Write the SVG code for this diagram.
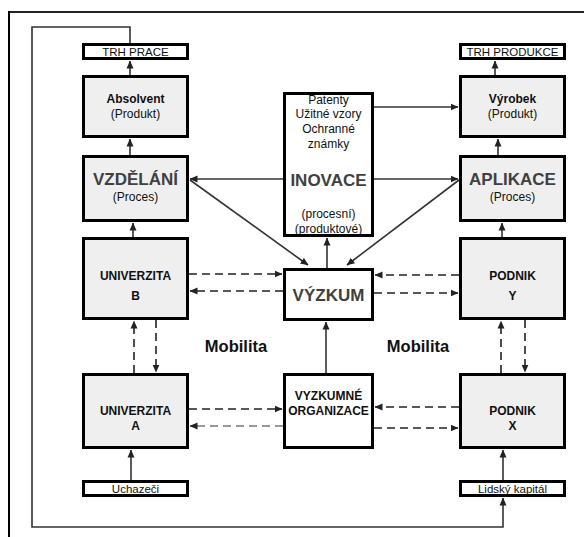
<svg xmlns="http://www.w3.org/2000/svg" width="584" height="537" viewBox="0 0 584 537">
<style>
.box{stroke:#000;stroke-width:3;fill:#fff}
.g{fill:#efefef}
.t{font-family:"Liberation Sans",Arial,sans-serif;font-size:12px;fill:#111;text-anchor:middle}
.s{font-size:11.5px}
.b{font-weight:bold}
.big{font-family:"Liberation Sans",Arial,sans-serif;font-size:17px;font-weight:bold;fill:#404040;text-anchor:middle}
.ln{stroke:#333;stroke-width:1.6;fill:none}
.d{stroke:#222;stroke-width:1.6;fill:none;stroke-dasharray:8,5}
.dl{stroke:#777;stroke-width:1.6;fill:none;stroke-dasharray:8,5}
.a{marker-end:url(#ah)}
</style>
<defs>
<marker id="ah" viewBox="0 0 8 8" refX="7.5" refY="4" markerWidth="8" markerHeight="8" markerUnits="userSpaceOnUse" orient="auto">
<path d="M0,0.5 L8,4 L0,7.5 z" fill="#222"/>
</marker>
</defs>
<rect width="584" height="537" fill="#fff"/>
<g id="frame">
<line x1="9" y1="12" x2="584" y2="12" stroke="#222" stroke-width="2"/>
<line x1="9" y1="11" x2="9" y2="537" stroke="#000" stroke-width="2"/>
</g>
<g id="connectors">
<path class="ln a" d="M130,43 V27 H32 V527 H503 V498"/>
<line class="ln a" x1="130" y1="75" x2="130" y2="61"/>
<line class="ln a" x1="130" y1="155" x2="130" y2="139"/>
<line class="ln a" x1="133" y1="237" x2="133" y2="223"/>
<line class="ln a" x1="131" y1="480" x2="131" y2="450"/>
<line class="ln a" x1="495" y1="75" x2="495" y2="61"/>
<line class="ln a" x1="498" y1="155" x2="498" y2="139"/>
<line class="ln a" x1="502" y1="237" x2="502" y2="223"/>
<line class="ln a" x1="503" y1="480" x2="503" y2="450"/>
<line class="ln a" x1="374" y1="107" x2="458" y2="107"/>
<line class="ln a" x1="283" y1="179" x2="190" y2="179"/>
<line class="ln a" x1="374" y1="179" x2="458" y2="179"/>
<line class="ln a" x1="190" y1="180" x2="308" y2="265"/>
<line class="ln a" x1="459" y1="180" x2="347" y2="265"/>
<line class="ln a" x1="327" y1="268" x2="327" y2="238"/>
<line class="ln a" x1="326" y1="373" x2="326" y2="322"/>
<line class="d a" x1="189" y1="274" x2="282" y2="274"/>
<line class="d a" x1="283" y1="291" x2="190" y2="291"/>
<line class="d a" x1="459" y1="275" x2="375" y2="275"/>
<line class="d a" x1="374" y1="293" x2="458" y2="293"/>
<line class="d a" x1="134" y1="373" x2="134" y2="321"/>
<line class="d a" x1="156" y1="320" x2="156" y2="372"/>
<line class="d a" x1="501" y1="373" x2="501" y2="321"/>
<line class="d a" x1="525" y1="320" x2="525" y2="372"/>
<line class="d a" x1="189" y1="409" x2="282" y2="409"/>
<line class="dl a" x1="283" y1="426" x2="190" y2="426"/>
<line class="d a" x1="459" y1="407" x2="375" y2="407"/>
<line class="d a" x1="374" y1="428" x2="458" y2="428"/>
</g>
<g id="trh-prace"><rect class="box" x="83.5" y="44.5" width="104" height="14"/><text class="t s" x="135.5" y="55.5">TRH PRACE</text></g>
<g id="absolvent"><rect class="box g" x="83.5" y="76.5" width="104" height="60"/><text class="t b" x="135.5" y="103">Absolvent</text><text class="t" x="135.5" y="118">(Produkt)</text></g>
<g id="vzdelani"><rect class="box g" x="83.5" y="156.5" width="104" height="64"/><text class="big" x="135.5" y="185">VZDĚLÁNÍ</text><text class="t" x="135.5" y="201">(Proces)</text></g>
<g id="univerzita-b"><rect class="box g" x="83.5" y="238.5" width="104" height="80"/><text class="t b" x="135.5" y="280">UNIVERZITA</text><text class="t b" x="135.5" y="300">B</text></g>
<g id="univerzita-a"><rect class="box g" x="83.5" y="374.5" width="104" height="73"/><text class="t b" x="135.5" y="415">UNIVERZITA</text><text class="t b" x="135.5" y="430">A</text></g>
<g id="uchazeci"><rect class="box" x="83.5" y="481.5" width="104" height="14"/><text class="t s" x="135.5" y="492.5">Uchazeči</text></g>
<g id="inovace"><rect class="box" x="284.5" y="93.5" width="88" height="142"/><text class="t" x="328.5" y="104">Patenty</text><text class="t" x="328.5" y="118">Užitné vzory</text><text class="t" x="328.5" y="133">Ochranné</text><text class="t" x="328.5" y="148">známky</text><text class="big" x="328.5" y="186">INOVACE</text><text class="t" x="328.5" y="218">(procesní)</text><text class="t" x="328.5" y="233">(produktové)</text></g>
<g id="vyzkum"><rect class="box" x="284.5" y="269.5" width="88" height="50"/><text class="big" x="328.5" y="301">VÝZKUM</text></g>
<g id="vyzkumne-organizace"><rect class="box" x="284.5" y="374.5" width="88" height="73"/><text class="t b" x="328.5" y="400">VYZKUMNÉ</text><text class="t b" x="328.5" y="415">ORGANIZACE</text></g>
<g id="trh-produkce"><rect class="box" x="460.5" y="44.5" width="104" height="14"/><text class="t s" x="512.5" y="55.5">TRH PRODUKCE</text></g>
<g id="vyrobek"><rect class="box g" x="460.5" y="76.5" width="104" height="60"/><text class="t b" x="512.5" y="103">Výrobek</text><text class="t" x="512.5" y="118">(Produkt)</text></g>
<g id="aplikace"><rect class="box g" x="460.5" y="156.5" width="104" height="64"/><text class="big" x="512.5" y="185">APLIKACE</text><text class="t" x="512.5" y="201">(Proces)</text></g>
<g id="podnik-y"><rect class="box g" x="460.5" y="238.5" width="104" height="80"/><text class="t b" x="512.5" y="280">PODNIK</text><text class="t b" x="512.5" y="300">Y</text></g>
<g id="podnik-x"><rect class="box g" x="460.5" y="374.5" width="104" height="73"/><text class="t b" x="512.5" y="415">PODNIK</text><text class="t b" x="512.5" y="430">X</text></g>
<g id="lidsky-kapital"><rect class="box" x="460.5" y="481.5" width="104" height="14"/><text class="t s" x="512.5" y="492.5">Lidský kapitál</text></g>
<g id="labels"><text class="t b" style="font-size:16.5px" x="236" y="352">Mobilita</text><text class="t b" style="font-size:16.5px" x="418" y="352">Mobilita</text></g>
</svg>
